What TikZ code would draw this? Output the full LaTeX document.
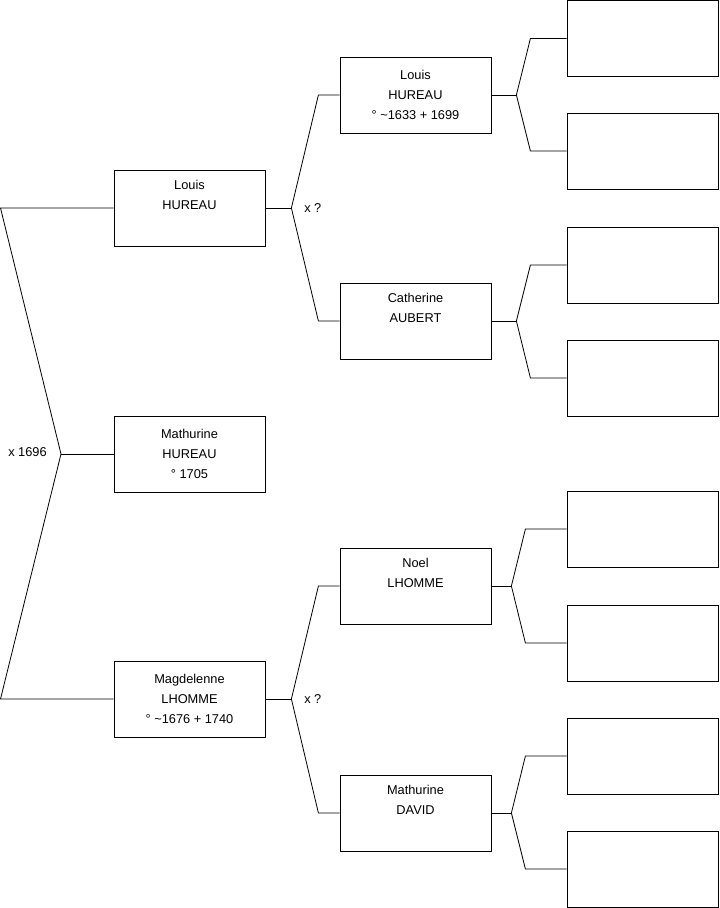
\documentclass[tikz,border=0pt]{standalone}
\usepackage{fontspec}
\setmainfont{Liberation Sans}
\usetikzlibrary{calc}
\definecolor{ink}{RGB}{0,0,0}
\tikzset{
  pers/.style={draw=ink,line width=.6pt,minimum width=113.25pt,minimum height=57pt,inner sep=0pt,align=center,font=\fontsize{9.6}{15}\selectfont},
  link/.style={draw=ink,line width=.6pt},
  lab/.style={font=\fontsize{9.6}{11}\selectfont,inner sep=0pt}
}
\begin{document}
\begin{tikzpicture}[x=.75pt,y=-.75pt]
  \useasboundingbox (0,0) rectangle (719,908);

  % generation 1
  \node[pers] (louis) at (189.5,208) {Louis\\HUREAU\\\strut};
  \node[pers] (mathurine) at (189.5,454) {Mathurine\\HUREAU\\° 1705};
  \node[pers] (magdelenne) at (189.5,699) {Magdelenne\\LHOMME\\° \textasciitilde1676 + 1740};

  % generation 2
  \node[pers] (louisp) at (415.5,95) {Louis\\HUREAU\\° \textasciitilde1633 + 1699};
  \node[pers] (catherine) at (415.5,321) {Catherine\\AUBERT\\\strut};
  \node[pers] (noel) at (415.5,586) {Noel\\LHOMME\\\strut};
  \node[pers] (mdavid) at (415.5,813) {Mathurine\\DAVID\\\strut};

  % generation 3, empty
  \foreach \i/\y in {1/38.5,2/151,3/265,4/378,5/529,6/643,7/756,8/869}
    \node[pers] (e\i) at (642.5,\y) {};

  % couple of the root
  \coordinate (root) at (61,454);
  \draw[link] (louis.west) -- (louis.west -| 0.5,0) -- (root) -- (magdelenne.west -| 0.5,0) -- (magdelenne.west);
  \draw[link] (root) -- (mathurine.west);
  \node[lab,anchor=east] (m1) at (47,452) {x 1696};

  % forks to the parents
  \foreach \p/\a/\b/\d/\e in {louis/louisp/catherine/26/27,magdelenne/noel/mdavid/26/27,
      louisp/e1/e2/25/14,catherine/e3/e4/25/14,noel/e5/e6/20/14,mdavid/e7/e8/20/14}{
    \draw[link] (\p.east) -- ++(\d,0) coordinate (j\p);
    \path (j\p) ++(\e,0) coordinate (k\p);
    \draw[link] (j\p) -- (k\p |- \a.west) -- (\a.west);
    \draw[link] (j\p) -- (k\p |- \b.west) -- (\b.west);
  }
  \node[lab,anchor=west] (m2) at (304,208) {x ?};
  \node[lab,anchor=west] (m3) at (304,699) {x ?};
\end{tikzpicture}
\end{document}
